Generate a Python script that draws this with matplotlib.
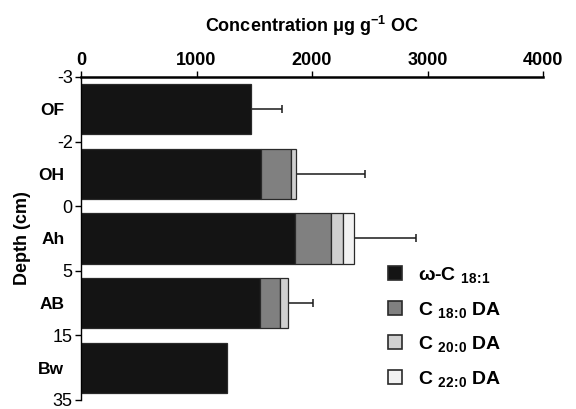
import numpy as np
import matplotlib
matplotlib.use("Agg")
import matplotlib.pyplot as plt
from matplotlib.lines import Line2D


horizons    = ["OF", "OH", "Ah", "AB", "Bw"]
depth_ticks = ["-3", "-2", "0", "5", "15", "35"]

# concentrations in ug g-1 OC, stacked per horizon
c18_1 = [1474, 1560, 1851, 1552, 1261]
c18_0 = [0, 259, 313, 169, 0]
c20_0 = [0, 43, 103, 75, 0]
c22_0 = [0, 0, 95, 0, 0]
err   = [267, 601, 537, 215, 0]

series_labels = [r"ω-C $_{18\!:\!1}$", r"C $_{18\!:\!0}$ DA", r"C $_{20\!:\!0}$ DA", r"C $_{22\!:\!0}$ DA"]
colors = ["#141414", "#808080", "#d0d0d0", "#f2f2f2"]
EDGE = "#2a2a2a"

plt.rcParams["font.family"] = ["Liberation Sans", "DejaVu Sans"]
plt.rcParams["mathtext.fontset"] = "custom"
plt.rcParams["mathtext.rm"] = "Liberation Sans:bold"
plt.rcParams["mathtext.bf"] = "Liberation Sans:bold"
plt.rcParams["mathtext.default"] = "bf"

fig = plt.figure(figsize=(5.76, 4.09), dpi=100)
ax = fig.add_axes([81 / 576, 1 - 400 / 409, 462 / 576, 323 / 409])

y = np.arange(len(horizons)) + 0.5
left = np.zeros(len(horizons))
for vals, col in zip([c18_1, c18_0, c20_0, c22_0], colors):
    vals = np.array(vals, dtype=float)
    m = vals > 0
    ax.barh(y[m], vals[m], left=left[m], height=0.78, color=col,
            edgecolor=EDGE, linewidth=0.9, zorder=2)
    left += vals

# error bars, only the upper side
err = np.array(err, dtype=float)
m = err > 0
ax.errorbar(left[m], y[m], xerr=[np.zeros(m.sum()), err[m]], fmt="none",
            ecolor="#1a1a1a", elinewidth=1.1, capsize=3, capthick=1.1, zorder=1)

ax.set_xlim(0, 4000)
ax.set_ylim(5, 0)
ax.xaxis.tick_top()
ax.xaxis.set_label_position("top")
ax.set_xticks([0, 1000, 2000, 3000, 4000])
ax.set_xticklabels(["0", "1000", "2000", "3000", "4000"], fontweight="bold", fontsize=13)
ax.set_xlabel(r"Concentration μg g$^{-1}$ OC", fontweight="bold", fontsize=13, labelpad=14)

ax.set_yticks(np.arange(len(depth_ticks)))
ax.set_yticklabels(depth_ticks, fontsize=13)
ax.set_yticks(y, minor=True)
ax.set_yticklabels(horizons, minor=True, fontweight="bold", fontsize=12.5)
ax.tick_params(axis="y", which="major", direction="out", length=4, width=1, pad=2)
ax.tick_params(axis="y", which="minor", length=0, pad=12)
ax.tick_params(axis="x", which="major", direction="out", length=4, width=1, pad=2)
ax.set_ylabel("Depth (cm)", fontweight="bold", fontsize=13, labelpad=5)

for s in ["right", "bottom"]:
    ax.spines[s].set_visible(False)
ax.spines["top"].set_linewidth(1.8)
ax.spines["left"].set_linewidth(1)

handles = [Line2D([], [], marker="s", linestyle="none", markersize=10,
                  markerfacecolor=c, markeredgecolor=EDGE, markeredgewidth=1.2)
           for c in colors]
ax.legend(handles, series_labels, loc="upper left", bbox_to_anchor=(385 / 576, 1 - 265 / 409),
          bbox_transform=fig.transFigure, frameon=False, borderpad=0, borderaxespad=0,
          prop={"weight": "bold", "size": 14}, handlelength=1.0, handletextpad=0.7,
          labelspacing=0.75)

fig.savefig("out.png", dpi=100)
